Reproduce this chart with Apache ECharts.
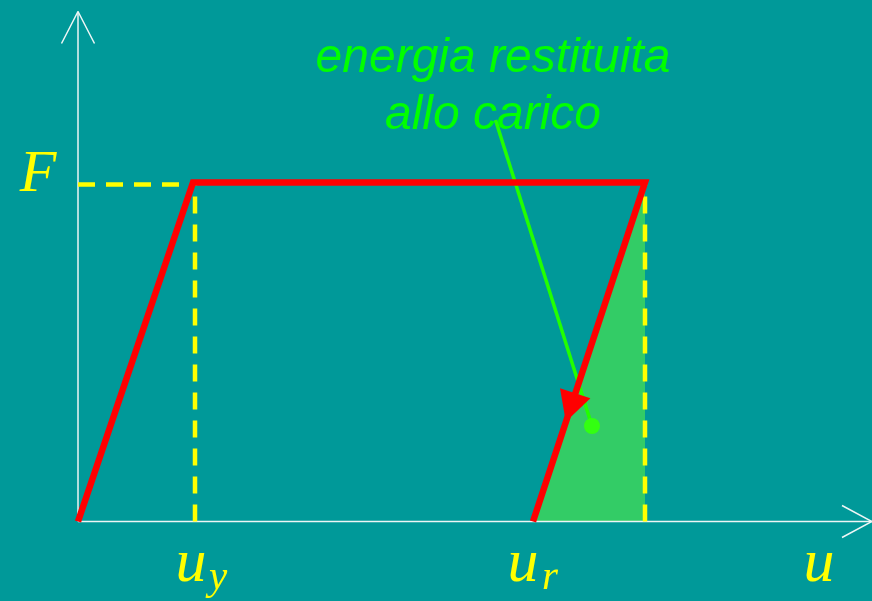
<!DOCTYPE html>
<html><head><meta charset="utf-8">
<script src="https://cdn.jsdelivr.net/npm/echarts@6/dist/echarts.min.js"></script>
<style>html,body{margin:0;padding:0;background:#009999;}#c{width:872px;height:601px;}</style>
</head><body><div id="c"></div>
<script>
// data in chart units (u horizontally, F vertically)
const X_RANGE = [-7.8, 79.4];
const Y_RANGE = [-7.95, 52.15];
const curve = [[0, 0], [11.5, 33.9], [56.7, 33.9], [45.5, 0]];
const yieldLevelDash = [[0, 33.7], [11.7, 33.7]];
const uyDash = [[11.7, 0], [11.7, 33.7]];
const umaxDash = [[56.7, 0], [56.7, 33.7]];
const energyArea = [[45.5, 0], [56.7, 33.9]];
const pointer = [[41.75, 40.15], [51.4, 9.55]];
const pointerDot = [[51.4, 9.55]];
const unloadArrow = [[49.25, 11.4]];
const xAxisLine = [[0, 0], [79.4, 0]];
const yAxisLine = [[0, 0], [0, 51.0]];
const xChevron = [[76.4, 1.6], [79.4, 0], [76.4, -1.6]];
const yChevron = [[-1.65, 47.8], [0, 51.0], [1.65, 47.8]];
const mathLabels = [
  ['F', -4.0, 34.6, 60],
  ['u', 11.3, -4.35, 62],
  ['y', 14.0, -5.65, 41],
  ['u', 44.5, -4.35, 62],
  ['r', 47.2, -5.65, 41],
  ['u', 74.1, -4.35, 62]
];
const noteText = 'energia restituita\nallo carico';
const notePos = [41.5, 43.43];

const chart = echarts.init(document.getElementById('c'), null, {renderer: 'canvas'});
function line(data, color, width, extra) {
  return Object.assign({type: 'line', data: data, symbol: 'none', silent: true,
    lineStyle: {color: color, width: width}}, extra || {});
}
const dash = {color: '#FFFF00', width: 4.5, type: [17, 11]};
const series = [
  line(xAxisLine, '#EEF6F6', 1.5),
  line(yAxisLine, '#EEF6F6', 1.5),
  line(xChevron, '#EEF6F6', 1.5),
  line(yChevron, '#EEF6F6', 1.5),
  line(energyArea, '#33CC66', 0, {areaStyle: {color: '#33CC66', opacity: 1}}),
  line(yieldLevelDash, '#FFFF00', 4.5, {lineStyle: dash}),
  line(uyDash, '#FFFF00', 4.5, {lineStyle: dash}),
  line(umaxDash, '#FFFF00', 4.5, {lineStyle: dash}),
  line(pointer, '#22FF00', 3.5),
  {type: 'scatter', data: pointerDot, symbol: 'circle', symbolSize: 16, silent: true, z: 5,
   itemStyle: {color: '#33FF11', opacity: 1}},
  line(curve, '#FF0000', 6.5, {lineStyle: {color: '#FF0000', width: 6.5, join: 'miter'}}),
  {type: 'scatter', data: unloadArrow, symbol: 'triangle', symbolSize: [32, 30], symbolRotate: 161.7,
   silent: true, z: 6, itemStyle: {color: '#FF0000', opacity: 1}},
  {type: 'scatter', data: mathLabels.map(l => ({value: [l[1], l[2]],
     label: {show: true, position: 'inside', formatter: l[0], fontSize: l[3]}})),
   symbolSize: 0, silent: true, itemStyle: {opacity: 1},
   label: {color: '#FFFF00', opacity: 1, fontFamily: 'Liberation Serif', fontStyle: 'italic', align: 'center', verticalAlign: 'middle'}},
  {type: 'scatter', data: [notePos], symbolSize: 0, silent: true, itemStyle: {opacity: 1},
   label: {show: true, position: 'inside', formatter: noteText, color: '#00FF00', opacity: 1,
     fontFamily: 'Liberation Sans', fontStyle: 'italic', fontSize: 48, lineHeight: 57,
     align: 'center', verticalAlign: 'middle'}}
];
chart.setOption({
  backgroundColor: '#009999',
  animation: false,
  grid: {left: 0, right: 0, top: 0, bottom: 0},
  xAxis: {type: 'value', min: X_RANGE[0], max: X_RANGE[1], show: false},
  yAxis: {type: 'value', min: Y_RANGE[0], max: Y_RANGE[1], show: false},
  series: series
});
</script></body></html>
